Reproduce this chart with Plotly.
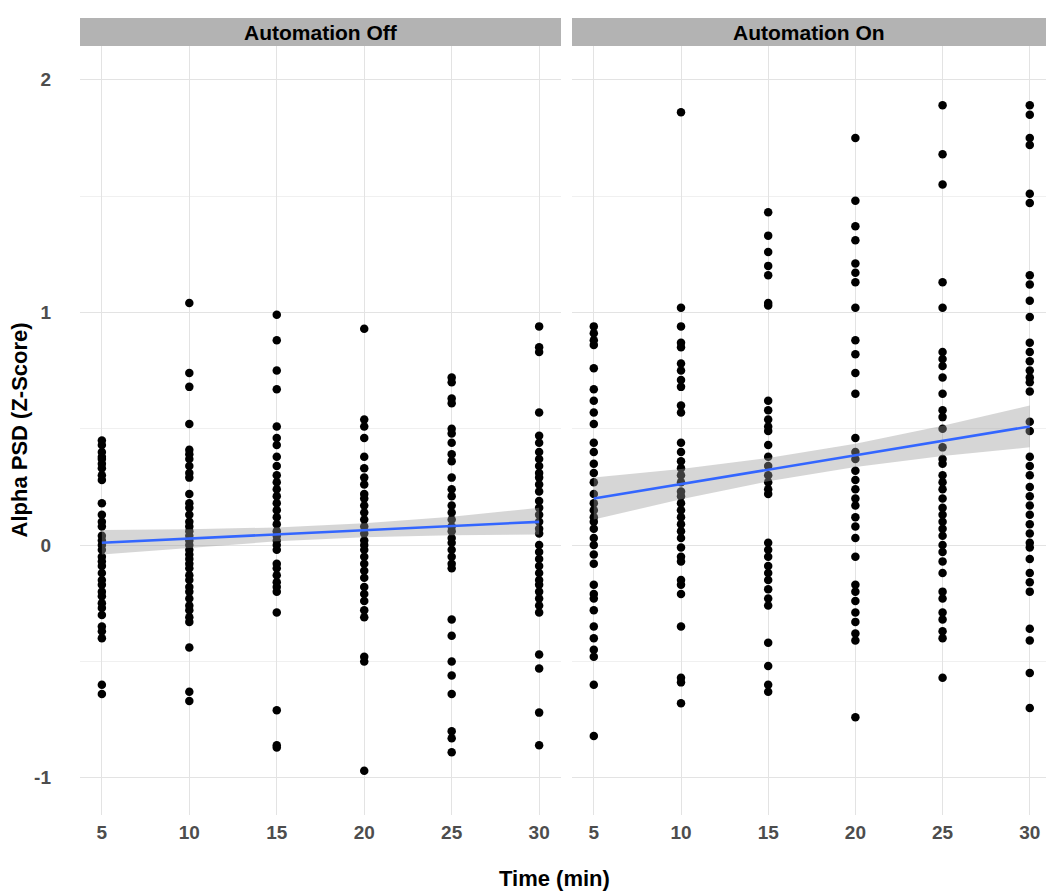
import plotly.graph_objects as go

# ---------------- data ----------------
panels = ["Automation Off", "Automation On"]
times = [5, 10, 15, 20, 25, 30]

off_5 = [0.45, 0.43, 0.40, 0.38, 0.37, 0.35, 0.33, 0.30, 0.28, 0.18, 0.13, 0.10, 0.08, 0.04, 0.02, 0.0, -0.02,
         -0.05, -0.07, -0.09, -0.12, -0.15, -0.17, -0.20, -0.22, -0.25, -0.27, -0.30, -0.35, -0.37, -0.40, -0.60, -0.64]
off_10 = [1.04, 0.74, 0.68, 0.52, 0.41, 0.39, 0.37, 0.34, 0.31, 0.29, 0.22, 0.18, 0.16, 0.13, 0.10, 0.08, 0.06, 0.04,
          0.02, 0.0, -0.02, -0.04, -0.06, -0.08, -0.10, -0.13, -0.15, -0.18, -0.20, -0.23, -0.26, -0.28, -0.31, -0.33,
          -0.44, -0.63, -0.67]
off_15 = [0.99, 0.88, 0.75, 0.67, 0.51, 0.46, 0.43, 0.38, 0.34, 0.30, 0.27, 0.24, 0.21, 0.18, 0.15, 0.12, 0.09, 0.06,
          0.04, 0.02, 0.0, -0.02, -0.08, -0.10, -0.13, -0.16, -0.18, -0.20, -0.29, -0.71, -0.86, -0.87]
off_20 = [0.93, 0.54, 0.51, 0.46, 0.38, 0.33, 0.29, 0.26, 0.22, 0.20, 0.17, 0.14, 0.11, 0.08, 0.05, 0.02, 0.0, -0.02,
          -0.05, -0.08, -0.11, -0.14, -0.18, -0.21, -0.24, -0.28, -0.31, -0.48, -0.50, -0.97]
off_25 = [0.72, 0.70, 0.63, 0.61, 0.50, 0.48, 0.44, 0.39, 0.36, 0.29, 0.24, 0.21, 0.17, 0.14, 0.11, 0.08, 0.06, 0.03,
          0.01, -0.02, -0.05, -0.08, -0.10, -0.32, -0.39, -0.50, -0.56, -0.64, -0.80, -0.83, -0.89]
off_30 = [0.94, 0.85, 0.83, 0.57, 0.47, 0.44, 0.40, 0.37, 0.34, 0.31, 0.29, 0.26, 0.23, 0.19, 0.16, 0.13, 0.10, 0.07,
          0.05, 0.0, -0.03, -0.06, -0.09, -0.12, -0.15, -0.17, -0.20, -0.23, -0.26, -0.29, -0.47, -0.53, -0.72, -0.86]

on_5 = [0.94, 0.91, 0.88, 0.86, 0.76, 0.67, 0.62, 0.57, 0.52, 0.44, 0.40, 0.35, 0.31, 0.27, 0.22, 0.18, 0.15, 0.12,
        0.10, 0.07, 0.03, 0.0, -0.04, -0.08, -0.17, -0.21, -0.23, -0.28, -0.35, -0.40, -0.45, -0.48, -0.60, -0.82]
on_10 = [1.86, 1.02, 0.94, 0.87, 0.85, 0.78, 0.75, 0.71, 0.68, 0.60, 0.57, 0.44, 0.40, 0.36, 0.33, 0.30, 0.27, 0.23,
         0.21, 0.18, 0.15, 0.12, 0.09, 0.06, 0.03, -0.01, -0.05, -0.07, -0.15, -0.17, -0.21, -0.35, -0.57, -0.59, -0.68]
on_15 = [1.43, 1.33, 1.26, 1.20, 1.16, 1.04, 1.03, 0.62, 0.58, 0.54, 0.51, 0.49, 0.43, 0.38, 0.34, 0.30, 0.27, 0.24,
         0.22, 0.01, -0.02, -0.05, -0.09, -0.12, -0.15, -0.19, -0.23, -0.26, -0.42, -0.52, -0.60, -0.63]
on_20 = [1.75, 1.48, 1.37, 1.31, 1.21, 1.17, 1.13, 1.02, 0.88, 0.82, 0.74, 0.65, 0.46, 0.40, 0.37, 0.32, 0.28, 0.24,
         0.20, 0.17, 0.12, 0.08, 0.03, -0.05, -0.17, -0.20, -0.24, -0.29, -0.33, -0.38, -0.41, -0.74]
on_25 = [1.89, 1.68, 1.55, 1.13, 1.02, 0.83, 0.80, 0.77, 0.72, 0.65, 0.58, 0.55, 0.50, 0.42, 0.37, 0.35, 0.30, 0.27,
         0.24, 0.20, 0.16, 0.13, 0.10, 0.07, 0.04, 0.0, -0.03, -0.07, -0.12, -0.20, -0.23, -0.29, -0.32, -0.37, -0.40, -0.57]
on_30 = [1.89, 1.85, 1.75, 1.72, 1.51, 1.47, 1.16, 1.12, 1.05, 0.98, 0.87, 0.83, 0.79, 0.75, 0.72, 0.70, 0.66, 0.53,
         0.49, 0.38, 0.34, 0.30, 0.25, 0.21, 0.17, 0.13, 0.09, 0.05, 0.01, -0.01, -0.06, -0.12, -0.16, -0.20, -0.36,
         -0.41, -0.55, -0.70]

off_columns = [off_5, off_10, off_15, off_20, off_25, off_30]
on_columns = [on_5, on_10, on_15, on_20, on_25, on_30]

# linear fit and its confidence band, read at each time point
fit_off = [0.010, 0.028, 0.046, 0.064, 0.082, 0.100]
band_off_lo = [-0.040, -0.012, 0.016, 0.034, 0.042, 0.045]
band_off_hi = [0.065, 0.068, 0.076, 0.094, 0.122, 0.160]
fit_on = [0.200, 0.262, 0.324, 0.386, 0.448, 0.510]
band_on_lo = [0.110, 0.197, 0.274, 0.336, 0.383, 0.420]
band_on_hi = [0.290, 0.327, 0.374, 0.436, 0.513, 0.600]

y_ticks = [-1, 0, 1, 2]
y_ticklabels = ["-1", "0", "1", "2"]

# ---------------- figure ----------------
W, H = 1046, 892
ml, mr, mt, mb = 80, 0, 18, 77
pw = W - ml - mr
ph = H - mt - mb
strip_h = 28
ytop = 1 - strip_h / ph

dom_left = [0, 481 / pw]
dom_right = [(572 - ml) / pw, 1]

fig = go.Figure()

groups = [
    ("x", "y", off_columns, fit_off, band_off_lo, band_off_hi),
    ("x2", "y2", on_columns, fit_on, band_on_lo, band_on_hi),
]

for xa, ya, cols, fit, lo, hi in groups:
    xs, ys = [], []
    for t, col in zip(times, cols):
        xs += [t] * len(col)
        ys += col
    fig.add_trace(go.Scatter(x=xs, y=ys, mode="markers", xaxis=xa, yaxis=ya,
                             marker=dict(color="black", size=8.5, line=dict(width=0)),
                             showlegend=False, hoverinfo="x+y"))
    fig.add_trace(go.Scatter(x=times + times[::-1], y=hi + lo[::-1], mode="lines", xaxis=xa, yaxis=ya,
                             fill="toself", fillcolor="rgba(153,153,153,0.4)", line=dict(width=0),
                             showlegend=False, hoverinfo="skip"))
    fig.add_trace(go.Scatter(x=times, y=fit, mode="lines", xaxis=xa, yaxis=ya,
                             line=dict(color="#3366FF", width=2.6), showlegend=False))

FONT = "Arial, Liberation Sans, sans-serif"
tick_font = dict(family=FONT, size=19, color="#4D4D4D", weight="bold")
axis_common = dict(showgrid=True, gridcolor="#E3E3E3", gridwidth=1, zeroline=False,
                   showline=False, ticks="", tickfont=tick_font)

yrange = [-1.16, 2.145]
fig.update_layout(
    width=W, height=H,
    margin=dict(l=ml, r=mr, t=mt, b=mb),
    plot_bgcolor="white", paper_bgcolor="white",
    font=dict(family=FONT, color="black"),
    xaxis=dict(domain=dom_left, range=[3.75, 31.25], tickvals=times, anchor="y", **axis_common),
    xaxis2=dict(domain=dom_right, range=[3.75, 30.93], tickvals=times, anchor="y2", **axis_common),
    yaxis=dict(domain=[0, ytop], range=yrange, tickvals=y_ticks, ticktext=y_ticklabels, anchor="x",
               minor=dict(dtick=0.5, showgrid=True, gridcolor="#F0F0F0", gridwidth=1),
               **axis_common),
    yaxis2=dict(domain=[0, ytop], range=yrange, tickvals=y_ticks, anchor="x2", matches="y",
                showticklabels=False,
                minor=dict(dtick=0.5, showgrid=True, gridcolor="#F0F0F0", gridwidth=1),
                **axis_common),
)
fig.update_xaxes(ticklabelstandoff=4)
fig.update_yaxes(ticklabelstandoff=28)

# facet strips
for dom, label in zip([dom_left, dom_right], panels):
    fig.add_shape(type="rect", xref="paper", yref="paper", x0=dom[0], x1=dom[1], y0=ytop, y1=1,
                  fillcolor="#B3B3B3", line=dict(width=0), layer="below")
    fig.add_annotation(x=(dom[0] + dom[1]) / 2, y=(ytop + 1) / 2, xref="paper", yref="paper",
                       text="<b>%s</b>" % label, showarrow=False,
                       font=dict(size=21, color="black"), xanchor="center", yanchor="middle")

# axis titles
fig.add_annotation(x=(554 - ml) / pw, y=-(878 - (H - mb)) / ph, xref="paper", yref="paper",
                   text="<b>Time (min)</b>", showarrow=False, font=dict(size=22, color="black"),
                   xanchor="center", yanchor="middle")
fig.add_annotation(x=-(ml - 19) / pw, y=ytop / 2, xref="paper", yref="paper",
                   text="<b>Alpha PSD (Z-Score)</b>", textangle=-90,
                   showarrow=False, font=dict(size=22, color="black"), xanchor="center", yanchor="middle")

fig.write_html("out.html",
               config={"displayModeBar": False},
               post_script="document.body.style.margin='0';document.body.style.overflow='hidden';")
